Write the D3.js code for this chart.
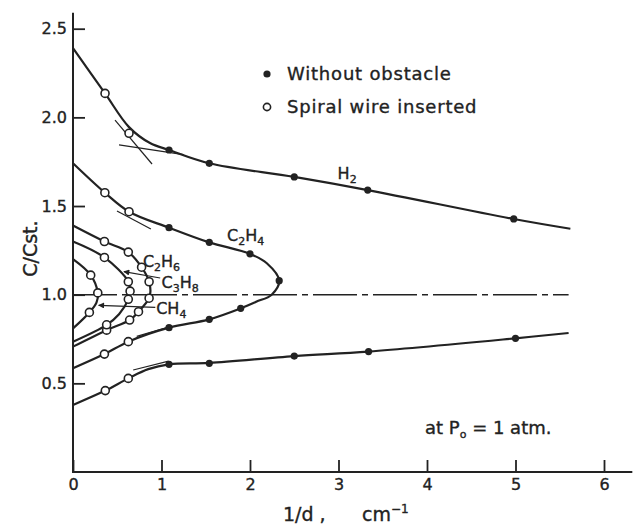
<!DOCTYPE html>
<html>
<head>
<meta charset="utf-8">
<script src="https://cdn.jsdelivr.net/npm/d3@7"></script>
<style>
  body { margin: 0; background: #fff; }
  svg { display: block; }
  text { font-family: "DejaVu Sans", sans-serif; fill: #222; stroke: #222; stroke-width: 0.35px; }
</style>
</head>
<body>
<script>
// axis ticks
const xTickValues = [0, 1, 2, 3, 4, 5, 6];
const yTickValues = [0.5, 1.0, 1.5, 2.0, 2.5];
const yTickLabels = ["0.5", "1.0", "1.5", "2.0", "2.5"];

// curves, [1/d, C/Cst]
const h2UpperLine = [[0, 2.39], [0.362, 2.135], [0.633, 1.945], [0.87, 1.855], [1.085, 1.816], [1.54, 1.741], [2.5, 1.664], [3.33, 1.59], [4.98, 1.427], [5.62, 1.372]];
const h2LowerLine = [[0, 0.378], [0.365, 0.459], [0.625, 0.528], [0.85, 0.58], [1.085, 0.607], [1.54, 0.615], [2.5, 0.654], [3.34, 0.679], [5.0, 0.754], [5.6, 0.784]];
const c2h4Line = [[0, 1.741], [0.36, 1.575], [0.633, 1.468], [1.085, 1.378], [1.54, 1.295], [2.0, 1.23], [2.19, 1.177], [2.33, 1.079], [2.245, 1.0], [2.07, 0.96], [1.895, 0.923], [1.54, 0.861], [1.085, 0.814], [0.625, 0.735], [0.355, 0.665], [0, 0.585]];
const c2h6Line = [[0, 1.39], [0.355, 1.30], [0.625, 1.24], [0.775, 1.155], [0.86, 1.073], [0.875, 1.02], [0.86, 0.98], [0.74, 0.904], [0.64, 0.857], [0.38, 0.80], [0, 0.707]];
const c3h8Line = [[0, 1.30], [0.355, 1.21], [0.625, 1.073], [0.645, 1.02], [0.625, 0.974], [0.52, 0.89], [0.38, 0.83], [0, 0.735]];
const ch4Line = [[0, 1.20], [0.2, 1.11], [0.28, 1.01], [0.265, 0.955], [0.185, 0.90], [0, 0.81]];

// without obstacle (filled dots)
const h2UpperFilled = [[1.085, 1.816], [1.54, 1.741], [2.5, 1.664], [3.33, 1.59], [4.98, 1.427]];
const h2LowerFilled = [[1.085, 0.607], [1.54, 0.613], [2.5, 0.654], [3.34, 0.679], [5.0, 0.754]];
const c2h4Filled = [[1.085, 1.378], [1.54, 1.295], [2.0, 1.23], [2.33, 1.079], [1.895, 0.923], [1.54, 0.861], [1.085, 0.814]];

// spiral wire inserted (open circles)
const h2UpperOpen = [[0.362, 2.135], [0.633, 1.91]];
const h2LowerOpen = [[0.365, 0.459], [0.625, 0.528]];
const c2h4Open = [[0.36, 1.575], [0.633, 1.468], [0.625, 0.735], [0.355, 0.665]];
const c2h6Open = [[0.355, 1.30], [0.625, 1.24], [0.775, 1.155], [0.86, 1.073], [0.86, 0.98], [0.74, 0.904], [0.64, 0.857], [0.38, 0.80]];
const c3h8Open = [[0.355, 1.21], [0.625, 1.073], [0.645, 1.02], [0.625, 0.974], [0.38, 0.83]];
const ch4Open = [[0.2, 1.11], [0.28, 1.01], [0.185, 0.90]];

// thin construction lines
const tangentLines = [
    [[0.52, 1.845], [1.25, 1.79]],
    [[0.475, 1.985], [0.893, 1.737]],
    [[0.497, 1.472], [0.88, 1.37]],
    [[0.72, 0.765], [1.08, 0.818]],
    [[0.68, 0.575], [1.08, 0.625]]
];
const refLine = [[0, 1.0], [5.6, 1.0]];

const width = 637, height = 526;
const ink = "#222";

const svg = d3.select("body").append("svg")
    .attr("width", width)
    .attr("height", height);

const x = d3.scaleLinear().domain([0, 6]).range([73, 604]);
const y = d3.scaleLinear().domain([0, 2.5]).range([472, 28.7]);

// axes
const xAxis = svg.append("g")
    .attr("transform", `translate(0,${y(0)})`)
    .call(d3.axisBottom(x).tickValues(xTickValues).tickFormat(d3.format("d"))
        .tickSizeInner(-12).tickSizeOuter(0).tickPadding(7));
const yAxis = svg.append("g")
    .attr("transform", `translate(${x(0)},0)`)
    .call(d3.axisLeft(y).tickValues(yTickValues).tickFormat((d, i) => yTickLabels[i])
        .tickSizeInner(-12).tickSizeOuter(0).tickPadding(6));

[xAxis, yAxis].forEach(g => {
    g.select(".domain").remove();
    g.selectAll(".tick line").attr("stroke", ink).attr("stroke-width", 1.8);
    g.selectAll(".tick text").attr("fill", ink).style("font-size", "16px")
        .style("font-family", "DejaVu Sans, sans-serif");
});

svg.append("line")
    .attr("x1", x(0)).attr("x2", x(6.32))
    .attr("y1", y(0)).attr("y2", y(0))
    .attr("stroke", ink).attr("stroke-width", 2);
svg.append("line")
    .attr("x1", x(0)).attr("x2", x(0))
    .attr("y1", y(0) + 1).attr("y2", y(2.59))
    .attr("stroke", ink).attr("stroke-width", 2);

// axis titles
svg.append("text")
    .attr("transform", `translate(37,${y(1.26)}) rotate(-90)`)
    .attr("text-anchor", "middle")
    .style("font-size", "19px")
    .text("C/Cst.");

const xt = svg.append("text")
    .attr("y", 521)
    .style("font-size", "19px");
xt.append("tspan").attr("x", 283).text("1/d ,");
xt.append("tspan").attr("x", 362).text("cm");
xt.append("tspan").attr("dy", -8).style("font-size", "12px").text("\u22121");

// dash-dot reference at 1.0
const line = d3.line().x(d => x(d[0])).y(d => y(d[1]));
svg.append("path")
    .attr("d", line(refLine))
    .attr("fill", "none")
    .attr("stroke", ink)
    .attr("stroke-width", 1.5)
    .attr("stroke-dasharray", "44,5,6,5");

// thin tangent lines
svg.selectAll(".tangent")
    .data(tangentLines)
    .enter().append("path")
    .attr("class", "tangent")
    .attr("d", line)
    .attr("fill", "none")
    .attr("stroke", ink)
    .attr("stroke-width", 1.2);

// main curves
const curve = d3.line()
    .x(d => x(d[0])).y(d => y(d[1]))
    .curve(d3.curveCatmullRom.alpha(0.5));
const curves = [h2UpperLine, h2LowerLine, c2h4Line, c2h6Line, c3h8Line, ch4Line];
svg.selectAll(".curve")
    .data(curves)
    .enter().append("path")
    .attr("class", "curve")
    .attr("d", curve)
    .attr("fill", "none")
    .attr("stroke", ink)
    .attr("stroke-width", 2.2);

// arrows to C3H8 and CH4
svg.append("defs").append("marker")
    .attr("id", "arrow")
    .attr("viewBox", "0 0 10 10")
    .attr("refX", 9).attr("refY", 5)
    .attr("markerWidth", 9).attr("markerHeight", 6)
    .attr("markerUnits", "userSpaceOnUse")
    .attr("orient", "auto")
    .append("path")
    .attr("d", "M0,0L10,5L0,10z")
    .attr("fill", ink);

const arrowLines = [
    [[0.985, 1.094], [0.575, 1.13]],
    [[0.93, 0.928], [0.29, 0.94]]
];
svg.selectAll(".arrow")
    .data(arrowLines)
    .enter().append("path")
    .attr("class", "arrow")
    .attr("d", line)
    .attr("stroke", ink)
    .attr("stroke-width", 1.2)
    .attr("marker-end", "url(#arrow)");

// markers
const filled = [].concat(h2UpperFilled, h2LowerFilled, c2h4Filled);
const open = [].concat(h2UpperOpen, h2LowerOpen, c2h4Open, c2h6Open, c3h8Open, ch4Open);

svg.selectAll(".open")
    .data(open)
    .enter().append("circle")
    .attr("class", "open")
    .attr("cx", d => x(d[0])).attr("cy", d => y(d[1]))
    .attr("r", 4)
    .attr("fill", "#fff")
    .attr("stroke", ink)
    .attr("stroke-width", 1.6);

svg.selectAll(".filled")
    .data(filled)
    .enter().append("circle")
    .attr("class", "filled")
    .attr("cx", d => x(d[0])).attr("cy", d => y(d[1]))
    .attr("r", 3.6)
    .attr("fill", ink);

// gas labels with subscripts
function gasLabel(px, py, parts) {
    const t = svg.append("text").attr("x", px).attr("y", py).style("font-size", "16px");
    parts.forEach(p => {
        if (p.sub) {
            t.append("tspan").attr("dy", 4).style("font-size", "11px").text(p.s);
        } else {
            t.append("tspan").attr("dy", p.after ? -4 : 0).text(p.s);
        }
    });
}
gasLabel(x(2.99), y(1.655), [{s: "H"}, {s: "2", sub: true}]);
gasLabel(x(1.74), y(1.30), [{s: "C"}, {s: "2", sub: true}, {s: "H", after: true}, {s: "4", sub: true}]);
gasLabel(x(0.79), y(1.156), [{s: "C"}, {s: "2", sub: true}, {s: "H", after: true}, {s: "6", sub: true}]);
gasLabel(x(1.0), y(1.04), [{s: "C"}, {s: "3", sub: true}, {s: "H", after: true}, {s: "8", sub: true}]);
gasLabel(x(0.94), y(0.89), [{s: "CH"}, {s: "4", sub: true}]);

// legend
svg.append("circle").attr("cx", 267).attr("cy", 74).attr("r", 3.6).attr("fill", ink);
svg.append("text").attr("x", 287).attr("y", 80).style("font-size", "18px")
    .style("letter-spacing", "0.8px").text("Without obstacle");
svg.append("circle").attr("cx", 267).attr("cy", 107).attr("r", 3.6)
    .attr("fill", "#fff").attr("stroke", ink).attr("stroke-width", 1.6);
svg.append("text").attr("x", 287).attr("y", 113).style("font-size", "18px")
    .style("letter-spacing", "0.8px").text("Spiral wire inserted");

// condition note
const note = svg.append("text").attr("x", 425).attr("y", 434).style("font-size", "18px");
note.append("tspan").text("at  P");
note.append("tspan").attr("dy", 4).style("font-size", "11px").text("o");
note.append("tspan").attr("dy", -4).text(" = 1 atm.");
</script>
</body>
</html>
